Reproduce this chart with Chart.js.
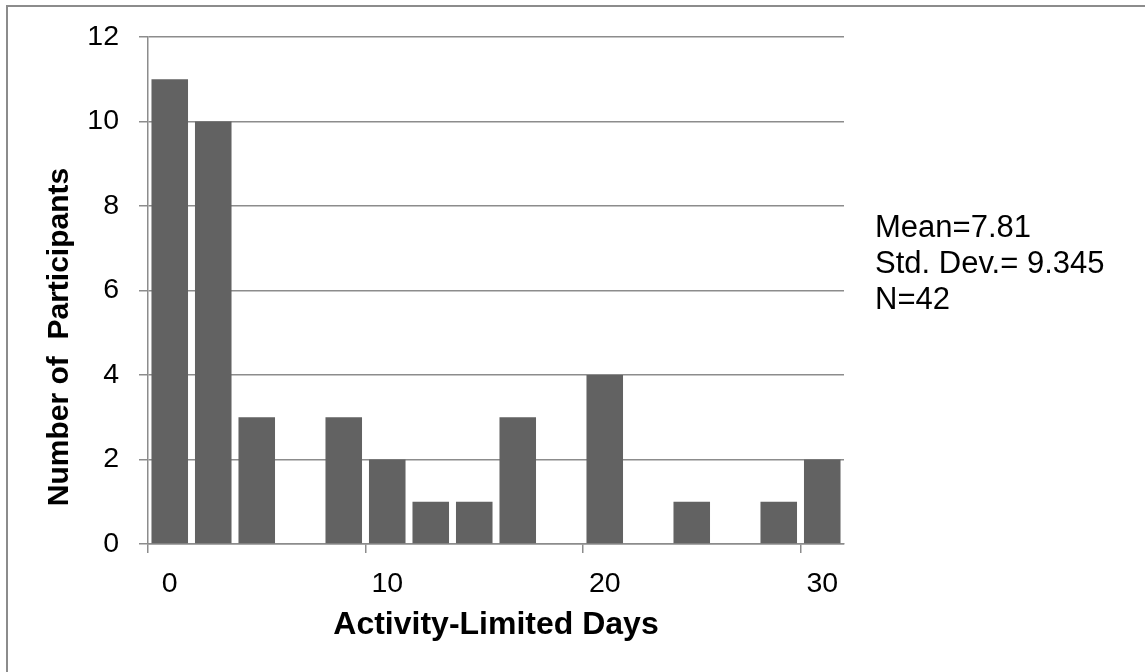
<!DOCTYPE html>
<html>
<head>
<meta charset="utf-8">
<script src="https://cdn.jsdelivr.net/npm/chart.js@4.4.1/dist/chart.umd.min.js"></script>
<style>
  html, body { margin: 0; padding: 0; background: #ffffff; }
  #wrap { position: relative; width: 1145px; height: 672px; overflow: hidden; }
  #frame { position: absolute; left: 6px; top: 5px; width: 1145px; height: 700px;
           border-left: 2px solid #8c8c8c; border-top: 2px solid #8c8c8c; pointer-events: none; }
  #stats { position: absolute; left: 875px; top: 209px; font-family: "Liberation Sans", Arial, sans-serif;
           font-size: 31px; line-height: 36px; color: #000; white-space: nowrap; }
  canvas { position: absolute; left: 0; top: 0; }
</style>
</head>
<body>
<div id="wrap">
  <canvas id="c" width="1145" height="672"></canvas>
  <div id="frame"></div>
  <div id="stats"></div>
</div>
<script>
// Data
const categories = ['0','2','4','6','8','10','12','14','16','18','20','22','24','26','28','30'];
const participants = [11, 10, 3, 0, 3, 2, 1, 1, 3, 0, 4, 0, 1, 0, 1, 2];
const shownTickLabels = ['0', '10', '20', '30'];
const yTicks = [0, 2, 4, 6, 8, 10, 12];
const statsLines = ['Mean=7.81', 'Std. Dev.= 9.345', 'N=42'];
const xTitle = 'Activity-Limited Days';
const yTitle = 'Number of  Participants';

document.getElementById('stats').innerHTML = statsLines.map(s => '<div>' + s + '</div>').join('');

const GRID = '#8c8c8c';
const FONT = '"Liberation Sans", Arial, sans-serif';

// Y-axis title centred on the whole chart height (as in the original)
const yTitlePlugin = {
  id: 'yTitlePlugin',
  afterDraw(chart) {
    const ctx = chart.ctx;
    ctx.save();
    ctx.translate(60, 337);
    ctx.rotate(-Math.PI / 2);
    ctx.font = 'bold 30px ' + FONT;
    ctx.fillStyle = '#000';
    ctx.textAlign = 'center';
    ctx.textBaseline = 'middle';
    ctx.fillText(yTitle, 0, 0);
    ctx.restore();
  }
};

new Chart(document.getElementById('c'), {
  type: 'bar',
  data: {
    labels: categories,
    datasets: [{
      data: participants,
      backgroundColor: '#626262',
      borderWidth: 0,
      barPercentage: 0.84,
      categoryPercentage: 1.0
    }]
  },
  plugins: [yTitlePlugin],
  options: {
    responsive: false,
    animation: false,
    events: [],
    layout: { padding: { left: 0, top: 35, right: 301, bottom: 0 } },
    plugins: { legend: { display: false }, tooltip: { enabled: false } },
    scales: {
      x: {
        type: 'category',
        offset: true,
        afterFit: s => { s.height = 128; },
        border: { display: true, color: GRID, width: 1.5 },
        grid: {
          offset: true,
          drawOnChartArea: false,
          drawTicks: true,
          tickLength: 9,
          lineWidth: 1.5,
          color: ctx => (ctx.index !== undefined && ctx.index % 5 === 0) ? GRID : 'rgba(0,0,0,0)'
        },
        ticks: {
          autoSkip: false,
          maxRotation: 0,
          padding: 14,
          color: '#000',
          font: { family: FONT, size: 28.5 },
          callback: function(v, i) {
            const l = categories[i];
            return shownTickLabels.includes(l) ? l : '';
          }
        },
        title: {
          display: true,
          text: xTitle,
          color: '#000',
          font: { family: FONT, size: 32, weight: 'bold' },
          padding: { top: 0, bottom: 28 }
        }
      },
      y: {
        min: yTicks[0],
        max: yTicks[yTicks.length - 1],
        afterFit: s => { s.width = 148; },
        afterBuildTicks: s => { s.ticks = yTicks.map(v => ({ value: v })); },
        border: { display: true, color: GRID, width: 1.5 },
        grid: { color: GRID, lineWidth: 1.5, tickLength: 9, drawTicks: true },
        ticks: {
          padding: 20,
          color: '#000',
          font: { family: FONT, size: 28.5 }
        },
        title: { display: false }
      }
    }
  }
});
</script>
</body>
</html>
